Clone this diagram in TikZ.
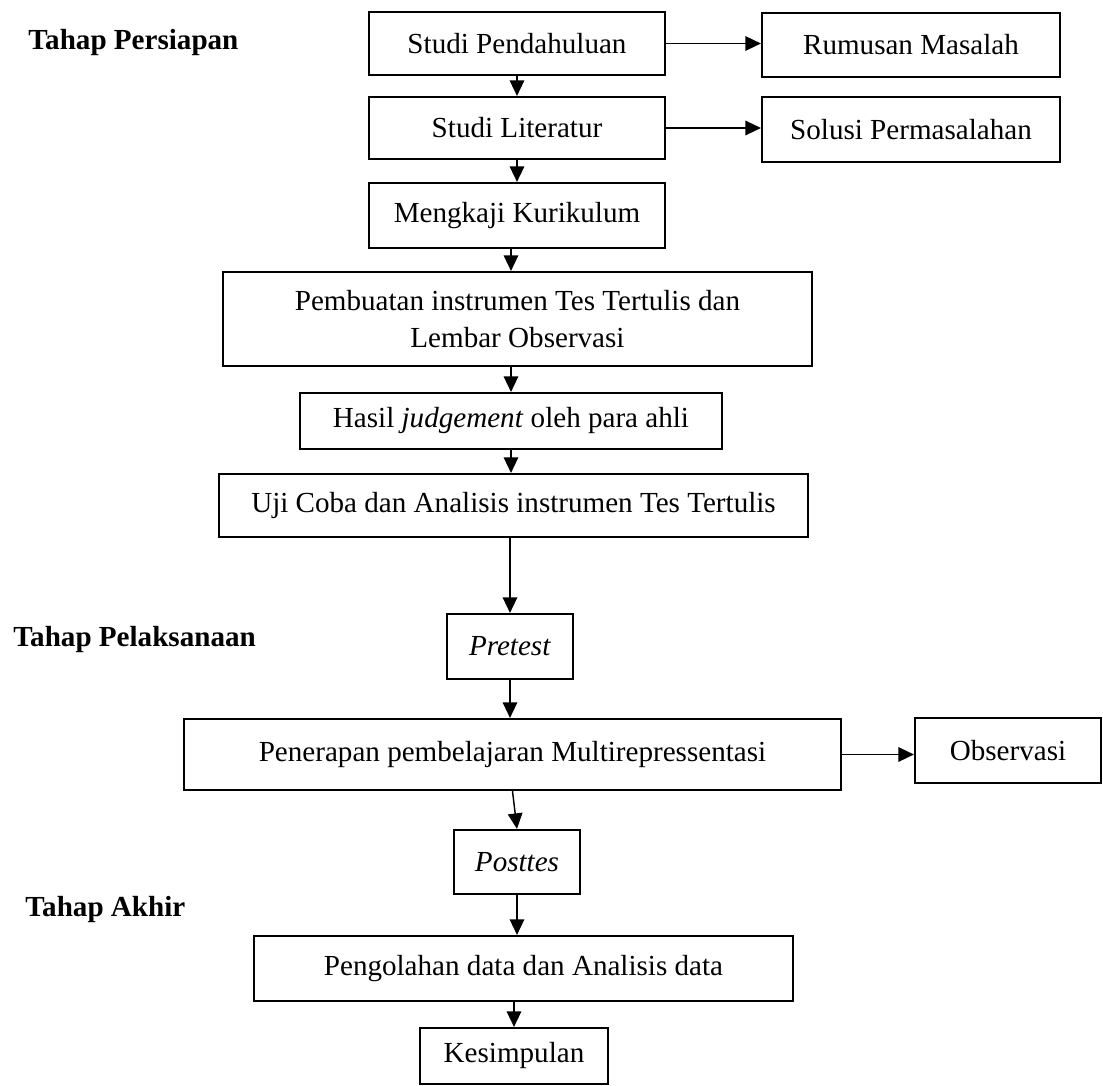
\documentclass[tikz,border=0pt]{standalone}
\usepackage{fontspec}
\setmainfont{Liberation Serif}
\usetikzlibrary{arrows.meta,positioning}
\newlength{\pxu}
\setlength{\pxu}{0.4124pt}
\tikzset{
  stepbox/.style={draw, line width=0.9pt, inner sep=0pt, align=center,
    font=\fontsize{12}{15}\selectfont},
  sz/.style 2 args={minimum width=#1\pxu, minimum height=#2\pxu},
  flow/.style={-{Triangle[length=6.4pt,width=6pt]}, line width=0.6pt},
  tahap/.style={anchor=west, inner sep=0pt, font=\fontsize{12}{15}\selectfont\bfseries},
}
\begin{document}
\begin{tikzpicture}[x=\pxu, y=-\pxu]
  \useasboundingbox (0,0) rectangle (1103,1086);
  % stage labels
  \node[tahap] (lpersiapan) at (28,43) {Tahap Persiapan};
  \node[tahap] (lpelaksanaan) at (13,640) {Tahap Pelaksanaan};
  \node[tahap] (lakhir) at (25,910) {Tahap Akhir};
  % preparation
  \node[stepbox, sz={296}{63}] (sp) at (517,43.5) {Studi Pendahuluan};
  \node[stepbox, sz={298}{64}] (rm) at (911,45) {Rumusan Masalah};
  \node[stepbox, sz={296}{62}] (sl) at (517,128) {Studi Literatur};
  \node[stepbox, sz={298}{65}] (solusi) at (911,129.5) {Solusi Permasalahan};
  \node[stepbox, sz={296}{65}] (mk) at (517,215.5) {Mengkaji Kurikulum};
  \node[stepbox, sz={589}{94}] (pemb) at (517.5,319)
    {Pembuatan instrumen Tes Tertulis dan\\Lembar Observasi};
  \node[stepbox, sz={422}{56}] (hasil) at (511,421) {Hasil \textit{judgement} oleh para ahli};
  \node[stepbox, sz={589}{63}] (uji) at (513.5,505.5) {Uji Coba dan Analisis instrumen Tes Tertulis};
  % implementation
  \node[stepbox, sz={126}{65}] (pretest) at (510,646.5) {\textit{Pretest}};
  \node[stepbox, sz={657}{71}] (pen) at (512.5,754.5) {Penerapan pembelajaran Multirepressentasi};
  \node[stepbox, sz={186}{65}] (obs) at (1008,750.5) {Observasi};
  % final stage
  \node[stepbox, sz={126}{64}] (posttes) at (517,862) {\textit{Posttes}};
  \node[stepbox, sz={539}{65}] (peng) at (523.5,968.5) {Pengolahan data dan Analisis data};
  \node[stepbox, sz={188}{56}] (kes) at (514,1056) {Kesimpulan};
  % connectors
  \draw[flow] (sp.east) -- (sp.east -| rm.west);
  \draw[flow] (sl.east) -- (sl.east -| solusi.west);
  \draw[flow] (sp.south) -- (sl.north);
  \draw[flow] (sl.south) -- (mk.north);
  \draw[flow] (mk.south -| hasil) -- (pemb.north -| hasil);
  \draw[flow] (pemb.south -| hasil) -- (hasil.north);
  \draw[flow] (hasil.south) -- (uji.north -| hasil);
  \draw[flow] (uji.south -| pretest) -- (pretest.north);
  \draw[flow] (pretest.south) -- (pen.north -| pretest);
  \draw[flow] (pen.east) -- (pen.east -| obs.west);
  \draw[flow] (pen.south) -- (posttes.north);
  \draw[flow] (posttes.south) -- (peng.north -| posttes);
  \draw[flow] (peng.south -| kes) -- (kes.north);
\end{tikzpicture}
\end{document}
